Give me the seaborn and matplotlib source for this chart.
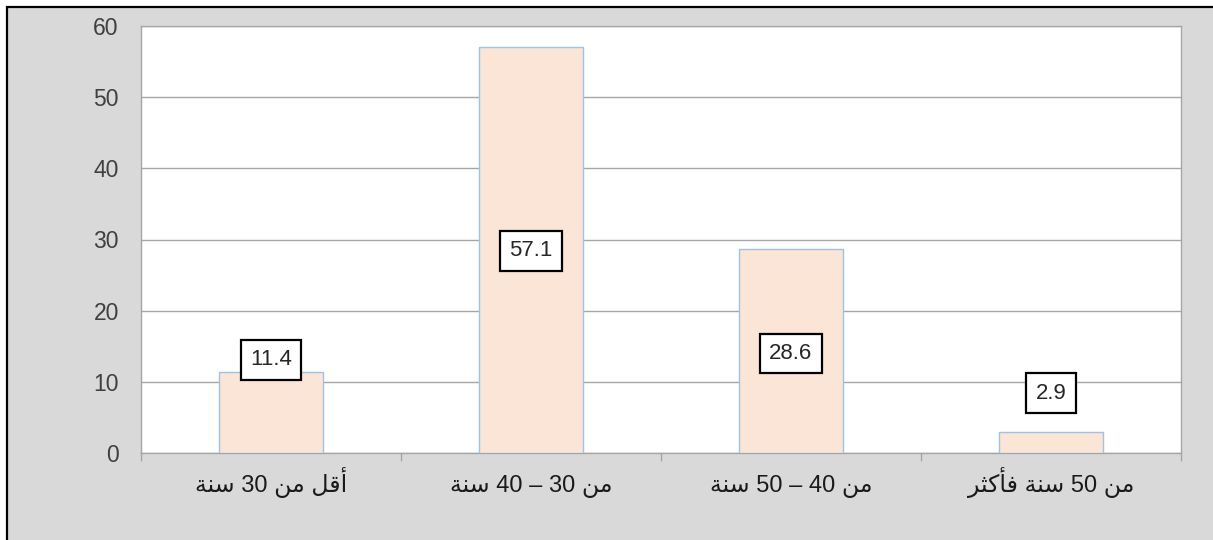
import matplotlib
matplotlib.use("Agg")
import matplotlib.pyplot as plt
import matplotlib.transforms as mtransforms
from matplotlib.patches import Rectangle
import pandas as pd
import seaborn as sns

# data
categories = ["أقل من 30 سنة", "من 30 – 40 سنة", "من 40 – 50 سنة", "من 50 سنة فأكثر"]
values = [11.4, 57.1, 28.6, 2.9]
label_y = [13.1, 28.4, 14.0, 8.4]   # where each value box sits
y_ticks = [0, 10, 20, 30, 40, 50, 60]

# matplotlib has no Arabic shaping, so pick the joined glyph forms by hand
# (isolated, final, initial, medial)
FORMS = {
    "أ": ("\uFE83", "\uFE84", None, None),
    "ة": ("\uFE93", "\uFE94", None, None),
    "ر": ("\uFEAD", "\uFEAE", None, None),
    "ث": ("\uFE99", "\uFE9A", "\uFE9B", "\uFE9C"),
    "س": ("\uFEB1", "\uFEB2", "\uFEB3", "\uFEB4"),
    "ف": ("\uFED1", "\uFED2", "\uFED3", "\uFED4"),
    "ق": ("\uFED5", "\uFED6", "\uFED7", "\uFED8"),
    "ك": ("\uFED9", "\uFEDA", "\uFEDB", "\uFEDC"),
    "ل": ("\uFEDD", "\uFEDE", "\uFEDF", "\uFEE0"),
    "م": ("\uFEE1", "\uFEE2", "\uFEE3", "\uFEE4"),
    "ن": ("\uFEE5", "\uFEE6", "\uFEE7", "\uFEE8"),
}


def shape_word(word):
    out = []
    for i, ch in enumerate(word):
        if ch not in FORMS:
            out.append(ch)
            continue
        prev = word[i - 1] if i > 0 else None
        nxt = word[i + 1] if i + 1 < len(word) else None
        join_prev = prev in FORMS and FORMS[prev][2] is not None
        join_next = nxt in FORMS and FORMS[ch][2] is not None
        iso, fin, ini, med = FORMS[ch]
        if join_prev and join_next:
            out.append(med)
        elif join_prev:
            out.append(fin)
        elif join_next:
            out.append(ini)
        else:
            out.append(iso)
    return "".join(out)


def visual(text):
    res = []
    for tok in reversed(text.split(" ")):
        if any(c in FORMS for c in tok):
            res.append(shape_word(tok)[::-1])
        else:
            res.append(tok)
    return " ".join(res)


df = pd.DataFrame({"cat": [visual(c) for c in categories], "val": values})

sns.set_theme(style="white")
plt.rcParams["font.family"] = ["Liberation Sans", "DejaVu Sans"]

W, H = 1213, 540
fig = plt.figure(figsize=(W / 100, H / 100), dpi=100, facecolor="white")
fig.add_artist(Rectangle((7 / W, -0.1), 1.1, 1 - 7 / H + 0.1, transform=fig.transFigure,
                         facecolor="#d9d9d9", edgecolor="black", lw=1.6, zorder=-1))
ax = fig.add_axes([141 / W, 1 - 453 / H, (1181 - 141) / W, (453 - 26) / H])
ax.set_facecolor("white")

sns.barplot(data=df, x="cat", y="val", color="#fbe5d6", saturation=1, width=0.4,
            edgecolor="#9dc3e6", linewidth=1, ax=ax, zorder=3)

ax.set_ylim(0, 60)
ax.set_xlim(-0.5, 3.5)
ax.set_yticks(y_ticks)
ax.yaxis.grid(True, color="#a6a6a6", lw=1)
ax.set_axisbelow(True)
ax.set_xlabel("")
ax.set_ylabel("")

for s in ax.spines.values():
    s.set_color("#a6a6a6")
    s.set_linewidth(1)

ax.tick_params(axis="y", length=6, width=1, color="#a6a6a6", pad=10,
               labelsize=16.5, labelcolor="#404040")

# category labels placed on a common baseline (Arabic glyph heights differ)
ax.set_xticks(range(len(categories)))
ax.set_xticklabels([])
ax.tick_params(axis="x", which="major", length=0)
ax.set_xticks([-0.5, 0.5, 1.5, 2.5, 3.5], minor=True)
ax.tick_params(axis="x", which="minor", length=6, width=1, color="#a6a6a6", bottom=True)
trans = mtransforms.blended_transform_factory(ax.transData, ax.transAxes)
for i, lab in enumerate(df["cat"]):
    ax.text(i, -39 / 427, lab, transform=trans, ha="center", va="baseline",
            fontsize=17, color="#1a1a1a")

for i, (v, ly) in enumerate(zip(values, label_y)):
    ax.text(i, ly, f"{v}", ha="center", va="center", fontsize=16, color="#262626", zorder=5,
            bbox=dict(boxstyle="square,pad=0.42", fc="white", ec="black", lw=1.6))

fig.savefig("out.png", dpi=100, facecolor=fig.get_facecolor())
